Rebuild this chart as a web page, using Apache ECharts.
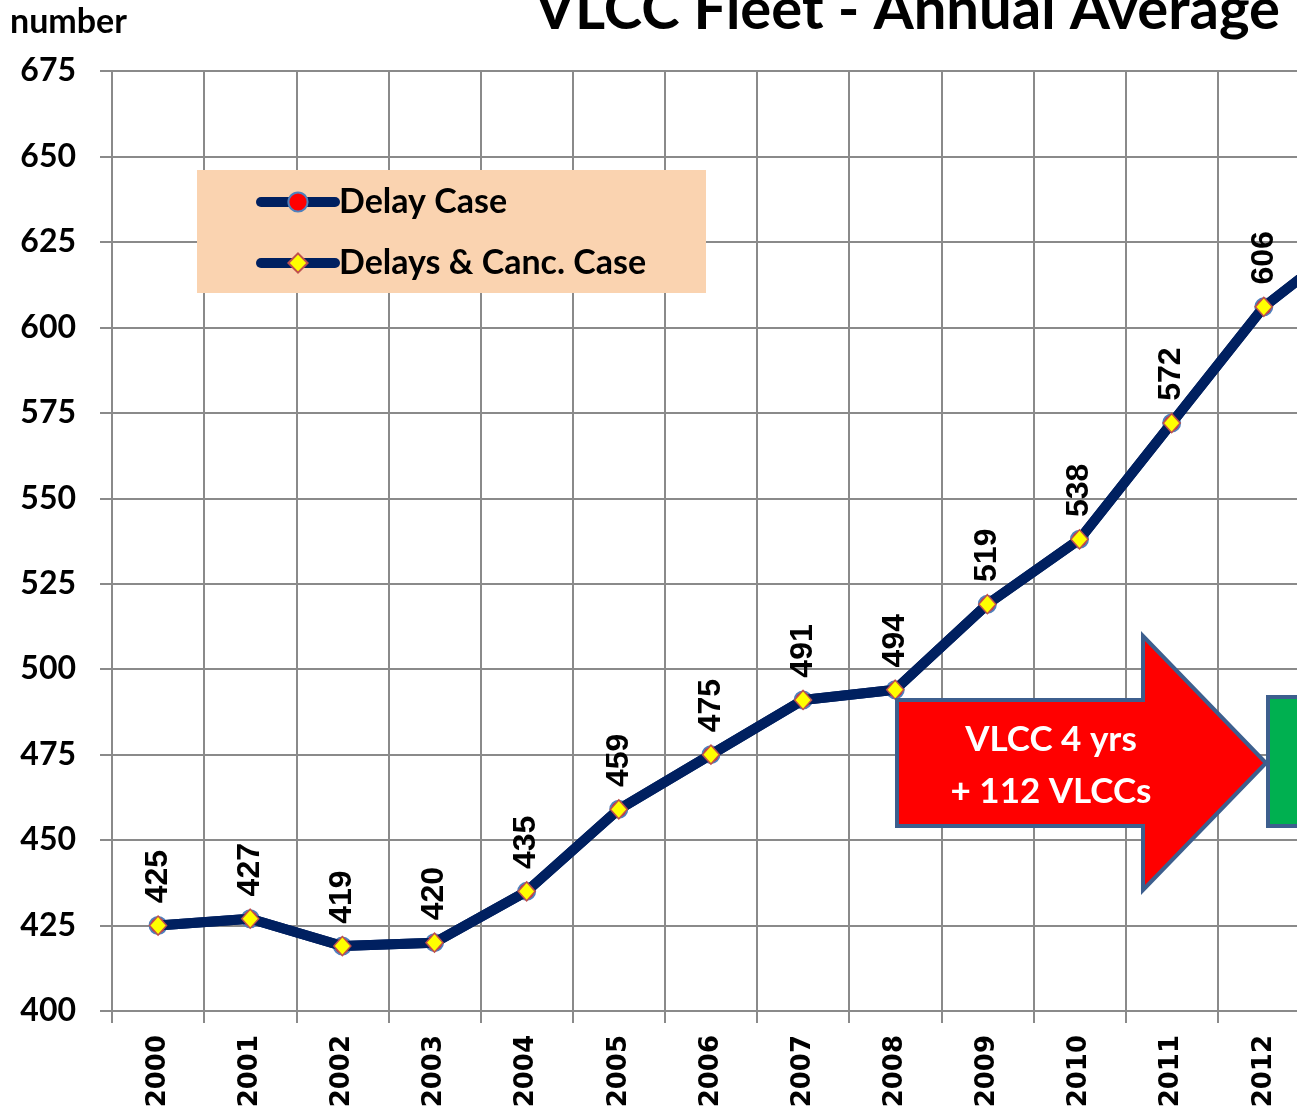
<!DOCTYPE html>
<html>
<head>
<meta charset="utf-8">
<script src="https://cdn.jsdelivr.net/npm/echarts@6/dist/echarts.min.js"></script>
<style>
html,body{margin:0;padding:0;background:#fff;}
#chart{width:1297px;height:1117px;}
</style>
</head>
<body>
<div id="chart"></div>
<script>
var years = ['2000','2001','2002','2003','2004','2005','2006','2007','2008','2009','2010','2011','2012','2013'];
var delayCase = [425,427,419,420,435,459,475,491,494,519,538,572,606,627];
var delaysCancCase = [425,427,419,420,435,459,475,491,494,519,538,572,606,627];
var yTicks = { min: 400, max: 675, interval: 25 };
var seriesNames = ['Delay Case', 'Delays & Canc. Case'];
var titleText = 'VLCC Fleet - Annual Average';
var yUnit = 'number';
var arrowText = ['VLCC 4 yrs', '+ 112 VLCCs'];

var chart = echarts.init(document.getElementById('chart'));
var calibri = 'Lato, "Open Sans", sans-serif';
var gridColor = '#8a8a8a';

chart.setOption({
  animation: false,
  backgroundColor: '#ffffff',
  grid: { left: 112, top: 71, width: 1290, bottom: 106, containLabel: false, outerBoundsMode: 'none' },
  xAxis: {
    type: 'category',
    data: years,
    boundaryGap: true,
    axisLine: { show: true, lineStyle: { color: gridColor, width: 2 } },
    axisTick: { show: true, length: 12, alignWithLabel: false, lineStyle: { color: gridColor, width: 2 } },
    splitLine: { show: true, lineStyle: { color: gridColor, width: 2 } },
    axisLabel: {
      rotate: 90, margin: 24, interval: 0,
      fontFamily: '"DejaVu Sans", sans-serif', fontWeight: 'bold', fontSize: 26, color: '#000'
    }
  },
  yAxis: {
    type: 'value',
    min: yTicks.min, max: yTicks.max, interval: yTicks.interval,
    axisLine: { show: true, lineStyle: { color: gridColor, width: 2 } },
    axisTick: { show: true, length: 12, lineStyle: { color: gridColor, width: 2 } },
    splitLine: { show: true, lineStyle: { color: gridColor, width: 2 } },
    axisLabel: { margin: 36, fontFamily: calibri, fontWeight: 'bold', fontSize: 32, color: '#000' }
  },
  legend: {
    orient: 'vertical',
    left: 197, top: 170,
    padding: [14, 20, 14, 59],
    itemWidth: 74, itemHeight: 24, itemGap: 25,
    data: seriesNames,
    lineStyle: { width: 10, cap: 'round' },
    textStyle: { fontFamily: calibri, fontWeight: 'bold', fontSize: 34, color: '#000', lineHeight: 36, padding: [0, 0, 0, -1] },
    selectedMode: false,
    z: 5
  },
  graphic: [
    { type: 'rect', z: 3, shape: { x: 197, y: 170, width: 509, height: 123 }, style: { fill: '#FAD3B0' } },
    { type: 'text', z: 5, x: 1280, y: 10, style: { text: titleText, font: 'bold 58px ' + calibri, fill: '#000', align: 'right', verticalAlign: 'middle' } },
    { type: 'text', z: 5, x: 10, y: 22, style: { text: yUnit, font: 'bold 34px ' + calibri, fill: '#000', align: 'left', verticalAlign: 'middle' } },
    { type: 'polygon', z: 6, shape: { points: [[897,700],[1143,700],[1143,636],[1266,763],[1143,890],[1143,826],[897,826]] },
      style: { fill: '#FF0000', stroke: '#3D5F8E', lineWidth: 4 } },
    { type: 'rect', z: 6, shape: { x: 1268, y: 697, width: 100, height: 129 }, style: { fill: '#00B050', stroke: '#3D5F8E', lineWidth: 4 } },
    { type: 'text', z: 7, x: 1051, y: 740, style: { text: arrowText[0], font: 'bold 35px ' + calibri, fill: '#fff', align: 'center', verticalAlign: 'middle' } },
    { type: 'text', z: 7, x: 1051, y: 792, style: { text: arrowText[1], font: 'bold 35px ' + calibri, fill: '#fff', align: 'center', verticalAlign: 'middle' } }
  ],
  series: [
    {
      name: seriesNames[0], type: 'line', data: delayCase, z: 2,
      symbol: 'circle', symbolSize: 17,
      lineStyle: { color: '#002060', width: 10, cap: 'round', join: 'round' },
      itemStyle: { color: '#FF0000', borderColor: '#4F81BD', borderWidth: 2 }
    },
    {
      name: seriesNames[1], type: 'line', data: delaysCancCase, z: 3,
      symbol: 'diamond', symbolSize: [17, 19],
      lineStyle: { color: '#002060', width: 10, cap: 'round', join: 'round' },
      itemStyle: { color: '#FFFF00', borderColor: '#C0504D', borderWidth: 1.5 },
      label: {
        show: true, position: 'top', rotate: 90, align: 'left', verticalAlign: 'middle', distance: 12,
        fontFamily: '"Liberation Sans", Arial, sans-serif', fontWeight: 'bold', fontSize: 32, color: '#000'
      }
    }
  ]
});
</script>
</body>
</html>
